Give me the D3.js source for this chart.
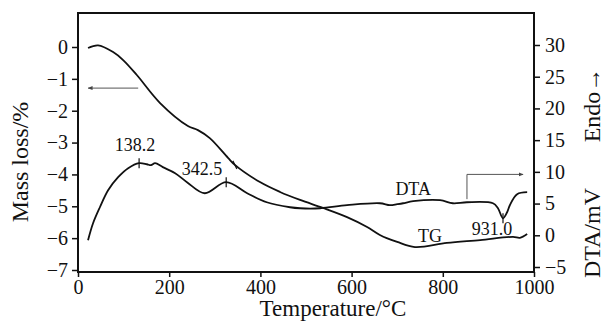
<!DOCTYPE html>
<html>
<head>
<meta charset="utf-8">
<script src="https://cdn.jsdelivr.net/npm/d3@7"></script>
<style>
  body { margin: 0; background: #fff; }
  svg, svg text { font-family: "Liberation Serif", "DejaVu Serif", serif; }
</style>
</head>
<body>
<svg id="chart" width="608" height="321"></svg>
<script>
// temperature (°C) and mass loss (%) of the TG curve
const tgTemp = [22, 44, 77, 99, 129, 180, 241, 263, 289, 329, 344, 399, 443, 487, 537, 590, 634, 662, 700, 739, 809, 882, 954, 969, 985];
const tgMass = [-0.03, 0.05, -0.16, -0.41, -0.88, -1.76, -2.48, -2.61, -2.86, -3.48, -3.70, -4.24, -4.55, -4.80, -5.05, -5.34, -5.65, -5.90, -6.12, -6.28, -6.15, -6.06, -5.96, -5.99, -5.87];

// temperature (°C) and signal (mV) of the DTA curve
const dtaTemp = [22, 33, 48, 66, 88, 110, 134, 151, 160, 169, 186, 213, 239, 278, 325, 371, 414, 465, 487, 531, 590, 662, 684, 700, 713, 735, 794, 822, 853, 910, 921, 932, 941, 947, 963, 985];
const dtaSignal = [-0.79, 1.89, 4.42, 7.1, 9.16, 10.58, 11.37, 11.2, 11.05, 11.37, 10.74, 9.79, 8.37, 6.63, 8.37, 6.63, 5.21, 4.42, 4.26, 4.26, 4.74, 5.05, 4.74, 4.9, 5.05, 5.37, 5.53, 5.05, 5.21, 5.05, 4.26, 2.68, 3.63, 4.74, 6.47, 6.79];

const xTicks = [0, 200, 400, 600, 800, 1000];
const massTicks = [0, -1, -2, -3, -4, -5, -6, -7];
const dtaTicks = [30, 25, 20, 15, 10, 5, 0, -5];

// peak labels on the DTA curve: marker temperature, label text, label position
const peakTemp = [134, 325, 932];
const peakSignal = [11.37, 8.37, 2.68];
const peakText = ["138.2", "342.5", "931.0"];
const peakLabelTemp = [125, 272, 908];
const peakLabelSignal = [13.3, 9.5, 0];

const svg = d3.select("#chart");
const pl = 78, pr = 534, pt = 13, pb = 272;
const serif = "Liberation Serif, DejaVu Serif, serif";

const x = d3.scaleLinear().domain([0, 1000]).range([pl, pr]);
const yL = d3.scaleLinear().domain([-7, 0]).range([270, 47]);
const yR = d3.scaleLinear().domain([-5, 30]).range([267, 45]);

// frame
svg.append("path")
  .attr("d", `M${pl},${pb}V${pt}H${pr}V${pb}Z`)
  .attr("fill", "none")
  .attr("stroke", "#111")
  .attr("stroke-width", 2);

const fmt = d3.format("d");

const gx = svg.append("g")
  .attr("transform", `translate(0,${pb})`)
  .call(d3.axisBottom(x).tickValues(xTicks).tickFormat(fmt).tickSize(5).tickSizeOuter(0).tickPadding(3));

const gl = svg.append("g")
  .attr("transform", `translate(${pl},0)`)
  .call(d3.axisLeft(yL).tickValues(massTicks).tickFormat(fmt).tickSize(6).tickSizeOuter(0).tickPadding(4));

const gr = svg.append("g")
  .attr("transform", `translate(${pr},0)`)
  .call(d3.axisRight(yR).tickValues(dtaTicks).tickFormat(fmt).tickSize(6).tickSizeOuter(0).tickPadding(5));

[gx, gl, gr].forEach(g => {
  g.attr("font-family", serif).attr("font-size", 20);
  g.select(".domain").remove();
  g.selectAll(".tick line").attr("stroke", "#111").attr("stroke-width", 1.5);
  g.selectAll(".tick text").attr("fill", "#111");
});

// axis titles
svg.append("text")
  .attr("x", 333).attr("y", 316)
  .attr("text-anchor", "middle")
  .attr("font-size", 23)
  .attr("fill", "#111")
  .text("Temperature/°C");

svg.append("text")
  .attr("transform", "translate(28,162) rotate(-90)")
  .attr("text-anchor", "middle")
  .attr("font-size", 24)
  .attr("fill", "#111")
  .text("Mass loss/%");

svg.append("text")
  .attr("transform", "translate(600,233) rotate(-90)")
  .attr("text-anchor", "middle")
  .attr("font-size", 24)
  .attr("fill", "#111")
  .text("DTA/mV");

svg.append("text")
  .attr("transform", "translate(600,105) rotate(-90)")
  .attr("text-anchor", "middle")
  .attr("font-size", 24)
  .attr("fill", "#111")
  .text("Endo→");

// curves
const tgLine = d3.line()
  .x((d, i) => x(tgTemp[i]))
  .y(d => yL(d))
  .curve(d3.curveCatmullRom.alpha(0.5));

const dtaLine = d3.line()
  .x((d, i) => x(dtaTemp[i]))
  .y(d => yR(d))
  .curve(d3.curveCatmullRom.alpha(0.5));

svg.append("path")
  .attr("d", tgLine(tgMass))
  .attr("fill", "none")
  .attr("stroke", "#111")
  .attr("stroke-width", 1.8);

svg.append("path")
  .attr("d", dtaLine(dtaSignal))
  .attr("fill", "none")
  .attr("stroke", "#111")
  .attr("stroke-width", 1.8);

// peak markers and labels
svg.append("g")
  .selectAll("line")
  .data(peakTemp)
  .join("line")
  .attr("x1", d => x(d)).attr("x2", d => x(d))
  .attr("y1", (d, i) => yR(peakSignal[i]) - 5)
  .attr("y2", (d, i) => yR(peakSignal[i]) + 5)
  .attr("stroke", "#111")
  .attr("stroke-width", 1.2);

// small tick on TG curve
svg.append("line")
  .attr("x1", x(344) - 2).attr("x2", x(344) + 2)
  .attr("y1", yL(-3.70) - 4).attr("y2", yL(-3.70) + 4)
  .attr("stroke", "#111")
  .attr("stroke-width", 1.2);

svg.append("g")
  .selectAll("text")
  .data(peakText)
  .join("text")
  .attr("x", (d, i) => x(peakLabelTemp[i]))
  .attr("y", (d, i) => yR(peakLabelSignal[i]))
  .attr("text-anchor", "middle")
  .attr("font-size", 18)
  .attr("fill", "#111")
  .text(d => d);

svg.append("text")
  .attr("x", x(735)).attr("y", yR(6.3))
  .attr("text-anchor", "middle")
  .attr("font-size", 18)
  .attr("fill", "#111")
  .text("DTA");

svg.append("text")
  .attr("x", x(772)).attr("y", yL(-6.12))
  .attr("text-anchor", "middle")
  .attr("font-size", 18)
  .attr("fill", "#111")
  .text("TG");

// arrows pointing to the axis each curve uses
const defs = svg.append("defs");
defs.append("marker")
  .attr("id", "head")
  .attr("viewBox", "0 -5 10 10")
  .attr("refX", 9)
  .attr("refY", 0)
  .attr("markerWidth", 5)
  .attr("markerHeight", 5)
  .attr("orient", "auto")
  .append("path")
  .attr("fill", "#444")
  .attr("d", "M0,-4L10,0L0,4Z");

svg.append("path")
  .attr("d", `M${x(132)},${yL(-1.29)}H${x(22)}`)
  .attr("fill", "none")
  .attr("stroke", "#555")
  .attr("stroke-width", 1)
  .attr("marker-end", "url(#head)");

svg.append("path")
  .attr("d", `M${x(853)},${yR(5.7)}V${yR(9.6)}H${x(976)}`)
  .attr("fill", "none")
  .attr("stroke", "#555")
  .attr("stroke-width", 1)
  .attr("marker-end", "url(#head)");
</script>
</body>
</html>
